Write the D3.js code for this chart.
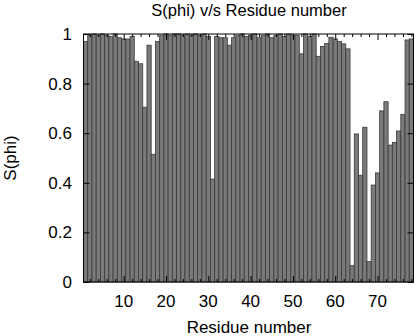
<!DOCTYPE html>
<html><head><meta charset="utf-8">
<script src="https://cdn.jsdelivr.net/npm/d3@7"></script>
<style>body{margin:0;background:#fff}svg{display:block}text{font-family:"Liberation Sans",Arial,sans-serif;fill:#000}</style>
</head><body><div id="c"></div>
<script>
const residues = d3.range(1, 79);
const sphi = [
0.97,0.995,1.0,0.995,1.0,0.995,0.99,1.0,0.985,0.98,
0.98,0.99,0.89,0.88,0.705,0.955,0.515,0.97,0.995,1.0,
0.995,1.0,1.0,0.995,1.0,0.995,1.0,0.995,1.0,0.99,
0.415,0.99,0.985,0.985,0.955,0.985,0.995,1.0,0.99,0.995,
1.0,0.985,0.995,1.0,0.985,0.995,1.0,0.99,1.0,0.995,
0.995,0.92,1.0,0.99,1.0,0.91,0.95,0.962,0.987,0.98,
0.97,0.96,0.94,0.066,0.597,0.43,0.624,0.082,0.391,0.44,
0.69,0.727,0.552,0.563,0.609,0.676,0.976,0.98];
const yTicks = [0, 0.2, 0.4, 0.6, 0.8, 1];
const xTicks = [10, 20, 30, 40, 50, 60, 70];
const title = "S(phi) v/s Residue number";
const xTitle = "Residue number";
const yTitle = "S(phi)";

const W = 416, H = 336;
const L = 83.5, R = 413.5, T = 34, B = 282;
const FS = 17;
const svg = d3.select("#c").append("svg").attr("width", W).attr("height", H);
const x = d3.scaleLinear().domain([0.5, 78.5]).range([L, R]);
const y = d3.scaleLinear().domain([0, 1]).range([B, T]);

svg.append("g").selectAll("rect").data(residues).join("rect")
  .attr("x", d => x(d - 0.5))
  .attr("width", d => x(d + 0.5) - x(d - 0.5))
  .attr("y", (d, i) => y(sphi[i]))
  .attr("height", (d, i) => y(0) - y(sphi[i]))
  .attr("fill", "#7a7a7a").attr("stroke", "#383838").attr("stroke-width", 0.8);

// frame
svg.append("rect").attr("x", L).attr("y", T).attr("width", R - L).attr("height", B - T)
  .attr("fill", "none").attr("stroke", "#000").attr("stroke-width", 1);

// y axes (inward ticks)
const yl = svg.append("g").attr("transform", `translate(${L},0)`)
  .call(d3.axisRight(y).tickValues(yTicks).tickSize(6).tickFormat(""));
const yr = svg.append("g").attr("transform", `translate(${R},0)`)
  .call(d3.axisLeft(y).tickValues(yTicks).tickSize(6).tickFormat(""));
[yl, yr].forEach(g => { g.select(".domain").remove(); g.selectAll("line").attr("stroke", "#000"); });
svg.append("g").selectAll("text").data(yTicks).join("text")
  .attr("x", 72).attr("y", d => y(d) + 6).attr("text-anchor", "end")
  .attr("font-size", FS).text(d => d3.format("")(d));

// x axes
const minor = d3.range(2, 79, 2).filter(v => v % 10 !== 0);
function xAxis(pos, dir) {
  const gMaj = svg.append("g").attr("transform", `translate(0,${pos})`)
    .call((dir > 0 ? d3.axisBottom(x) : d3.axisTop(x)).tickValues(xTicks).tickSize(6).tickFormat(""));
  const gMin = svg.append("g").attr("transform", `translate(0,${pos})`)
    .call((dir > 0 ? d3.axisBottom(x) : d3.axisTop(x)).tickValues(minor).tickSize(3).tickFormat(""));
  [gMaj, gMin].forEach(g => { g.select(".domain").remove(); g.selectAll("line").attr("stroke", "#000"); });
}
xAxis(T, 1);
xAxis(B, -1);
svg.append("g").selectAll("text").data(xTicks).join("text")
  .attr("x", d => x(d)).attr("y", 307).attr("text-anchor", "middle")
  .attr("font-size", FS).text(d => d);

svg.append("text").attr("x", 249).attr("y", 16).attr("text-anchor", "middle").attr("font-size", 16.5).text(title);
svg.append("text").attr("x", 249).attr("y", 333).attr("text-anchor", "middle").attr("font-size", FS).text(xTitle);
svg.append("text").attr("transform", "translate(15.5,158) rotate(-90)").attr("text-anchor", "middle").attr("font-size", FS).text(yTitle);
</script></body></html>
